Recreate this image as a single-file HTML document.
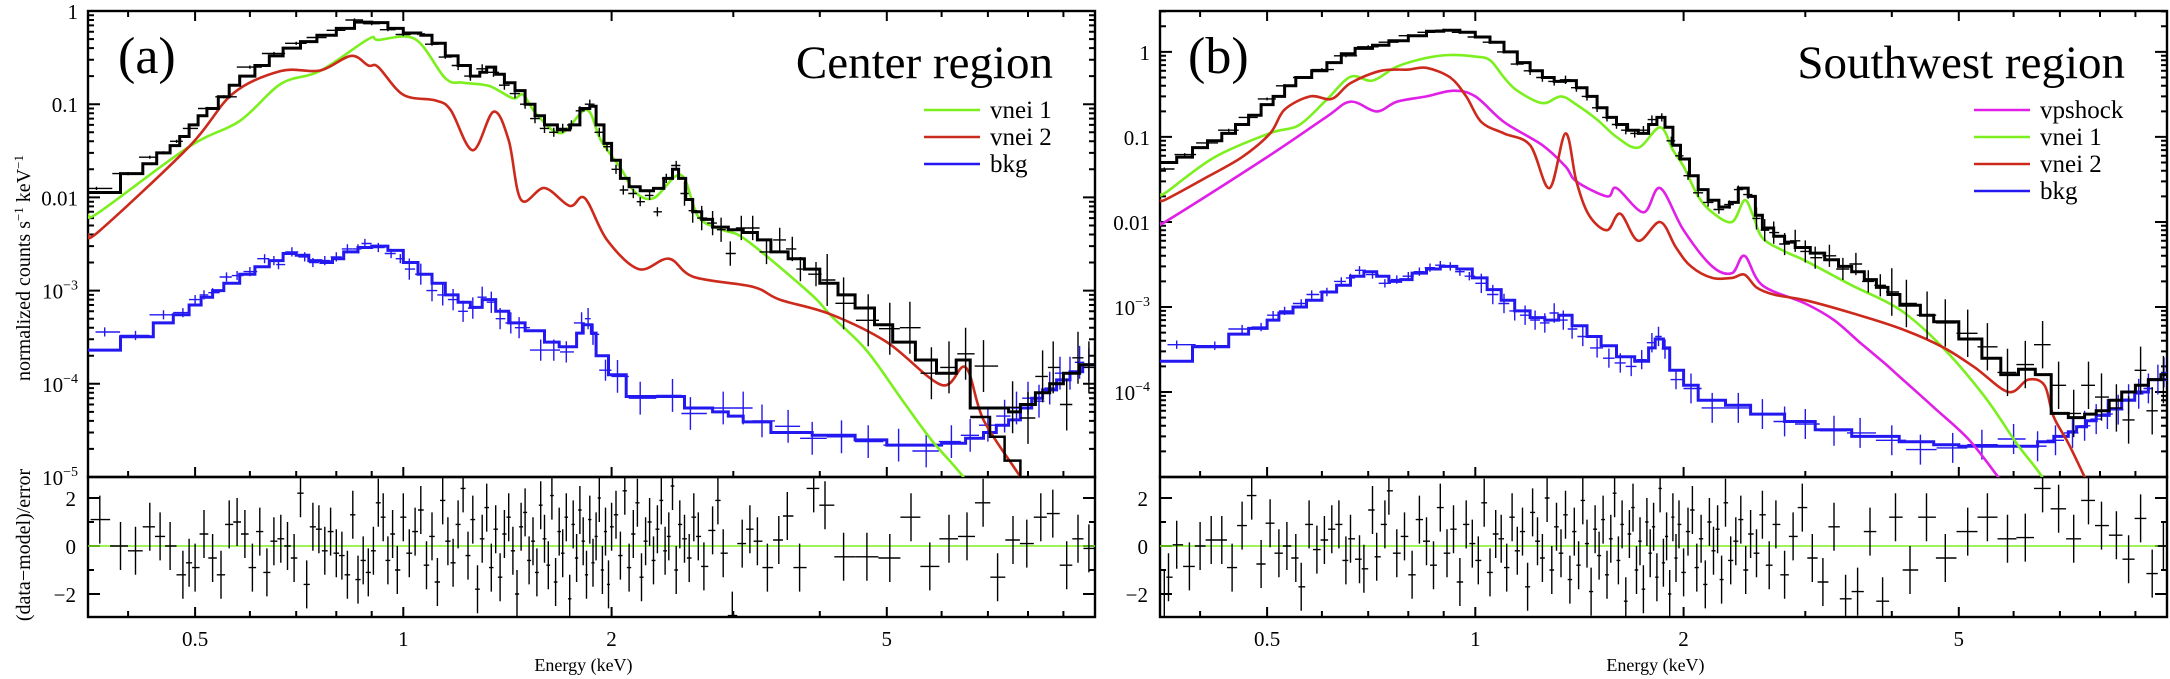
<!DOCTYPE html>
<html><head><meta charset="utf-8"><title>X-ray spectra</title>
<style>
html,body{margin:0;padding:0;background:#fff;}
svg{display:block;font-family:"Liberation Serif","DejaVu Serif",serif;}
</style></head>
<body>
<svg id="chart" width="2170" height="679" viewBox="0 0 2170 679" xmlns="http://www.w3.org/2000/svg">
<defs>
<clipPath id="clipMainA"><rect x="88" y="11" width="1007" height="466"/></clipPath>
<clipPath id="clipResA"><rect x="88" y="477" width="1007" height="140"/></clipPath>
<clipPath id="clipMainB"><rect x="1160" y="11" width="1007" height="466"/></clipPath>
<clipPath id="clipResB"><rect x="1160" y="477" width="1007" height="140"/></clipPath>
</defs>
</svg>
<script>
// ===== Shared axis settings =====
const EMIN = 0.35, EMAX = 10;
const xMajorTicks = [0.5, 1, 2, 5];
const xMinorTicks = [0.4, 0.6, 0.7, 0.8, 0.9, 3, 4, 6, 7, 8, 9];
const xTickLabels = ["0.5", "1", "2", "5"];

// ===== Panel (a): Center region =====
const aGreenE = [0.35,0.364,0.49,0.58,0.665,0.758,0.89,0.92,1.04,1.15,1.22,1.33,1.44,1.49,1.56,1.69,1.84,1.93,2.07,2.16,2.30,2.52,2.67,2.89,3.13,3.87,4.15,4.67,5.27,5.8,6.45,7.0];
const aGreenV = [0.0065,0.007,0.035,0.066,0.165,0.227,0.5,0.49,0.5,0.19,0.17,0.157,0.116,0.126,0.077,0.049,0.087,0.041,0.0196,0.0115,0.0098,0.0174,0.0062,0.0045,0.0035,0.00094,0.00054,0.00023,0.000066,0.000025,0.00001,0.000004];
const aRedE = [0.35,0.364,0.49,0.567,0.665,0.758,0.84,0.89,0.92,1.0,1.11,1.17,1.26,1.35,1.42,1.48,1.60,1.74,1.83,1.97,2.19,2.42,2.63,3.2,3.5,4.14,5.0,6.0,6.5,6.9,7.8,8.2];
const aRedV = [0.004,0.0044,0.035,0.13,0.227,0.23,0.33,0.26,0.25,0.126,0.11,0.087,0.032,0.083,0.041,0.0094,0.0126,0.0081,0.0098,0.0035,0.0017,0.0022,0.0014,0.0011,0.0008,0.00056,0.00028,0.000097,0.00015,0.000041,0.00001,0.000005];
const aTotEdges = [0.35,0.39,0.42,0.44,0.46,0.475,0.49,0.505,0.52,0.54,0.56,0.58,0.61,0.64,0.67,0.71,0.75,0.8,0.85,0.9,0.95,1.0,1.06,1.1,1.15,1.2,1.25,1.29,1.32,1.36,1.4,1.45,1.5,1.55,1.6,1.67,1.74,1.8,1.86,1.9,1.95,2.0,2.06,2.12,2.2,2.3,2.38,2.45,2.5,2.56,2.62,2.7,2.8,2.95,3.1,3.25,3.4,3.6,3.8,4.0,4.25,4.5,4.8,5.1,5.5,5.9,6.3,6.6,7.0,7.5,7.8,8.2,8.6,9.0,9.5];
const aTotV = [0.0113,0.018,0.023,0.03,0.036,0.045,0.06,0.075,0.09,0.12,0.16,0.2,0.26,0.33,0.4,0.47,0.55,0.65,0.76,0.75,0.65,0.58,0.55,0.45,0.33,0.26,0.2,0.22,0.25,0.21,0.17,0.14,0.1,0.075,0.06,0.053,0.06,0.09,0.095,0.06,0.038,0.025,0.016,0.013,0.0118,0.0125,0.016,0.02,0.016,0.0095,0.007,0.0058,0.0048,0.0045,0.0042,0.0035,0.0026,0.0022,0.0017,0.0012,0.0009,0.00065,0.00043,0.00028,0.00018,0.00013,0.00018,0.000055,0.000055,0.00005,0.00006,0.00008,0.0001,0.00013,0.00016];
const aLowEdges = [6.6,7.05,7.4,7.8];
const aLowV = [4.4e-5,2.7e-5,1.5e-5,8e-6];
const aBkgEdges = [0.35,0.39,0.435,0.465,0.49,0.51,0.53,0.55,0.58,0.61,0.64,0.67,0.70,0.73,0.76,0.79,0.82,0.86,0.9,0.95,1.0,1.05,1.1,1.15,1.2,1.25,1.3,1.36,1.42,1.5,1.6,1.68,1.78,1.82,1.87,1.9,1.98,2.1,2.4,2.55,2.8,2.95,3.1,3.4,3.9,4.5,5.0,6.0,6.5,6.9,7.2,7.5,7.8,8.1,8.4,8.8,9.2,9.6];
const aBkgV = [2.3e-4,3.2e-4,4.5e-4,5.5e-4,7e-4,8.5e-4,1.0e-3,1.2e-3,1.5e-3,1.8e-3,2.1e-3,2.5e-3,2.4e-3,2.1e-3,2.0e-3,2.2e-3,2.6e-3,2.9e-3,3.0e-3,2.7e-3,2.0e-3,1.5e-3,1.2e-3,9e-4,7.5e-4,6.6e-4,8e-4,6e-4,4.5e-4,3.7e-4,2.8e-4,2.5e-4,3.5e-4,4.3e-4,3.5e-4,2.0e-4,1.25e-4,7.3e-5,7.3e-5,5.5e-5,5e-5,4.5e-5,3.9e-5,3.0e-5,2.8e-5,2.5e-5,2.2e-5,2.3e-5,2.6e-5,3e-5,3.6e-5,4.1e-5,5.5e-5,7e-5,8.6e-5,1.1e-4,1.35e-4,1.6e-4];
const aDataE = [0.36,0.4,0.43,0.45,0.47,0.49,0.52,0.55,0.6,0.65,0.7,0.75,0.8,0.85,0.9,0.95,1.0,1.05,1.1,1.15,1.2,1.25,1.3,1.35,1.4,1.45,1.5,1.55,1.6,1.65,1.7,1.75,1.8,1.86,1.92,1.97,2.03,2.08,2.15,2.2,2.27,2.33,2.4,2.48,2.55,2.62,2.7,2.8,2.88,2.97,3.08,3.2,3.35,3.5,3.65,3.75,3.95,4.1,4.33,4.7,5.05,5.4,5.8,6.15,6.5,6.9,7.6,8.0,8.4,8.7,9.1,9.45,9.8];
const aDataV = [0.0125,0.018,0.027,0.03,0.04,0.055,0.09,0.12,0.25,0.35,0.45,0.52,0.62,0.8,0.73,0.63,0.56,0.57,0.44,0.32,0.26,0.2,0.24,0.22,0.16,0.13,0.1,0.07,0.055,0.05,0.055,0.06,0.085,0.1,0.05,0.035,0.02,0.012,0.011,0.009,0.0105,0.007,0.016,0.022,0.011,0.0072,0.006,0.0053,0.0045,0.0025,0.0047,0.0047,0.0026,0.0035,0.0028,0.0017,0.0015,0.0013,7.3e-4,4.8e-4,3.9e-4,4e-4,1.3e-4,1.5e-4,2.1e-4,1.55e-4,5.6e-5,4.3e-5,1.2e-4,1.5e-4,6e-5,1.9e-4,1.5e-4];
const aBkgDataE = [0.37,0.41,0.45,0.48,0.5,0.515,0.53,0.555,0.575,0.6,0.63,0.65,0.66,0.69,0.72,0.74,0.77,0.8,0.83,0.86,0.88,0.92,0.96,0.99,1.02,1.06,1.1,1.14,1.18,1.22,1.26,1.3,1.34,1.38,1.43,1.47,1.58,1.65,1.72,1.81,1.85,1.88,1.96,2.04,2.2,2.45,2.6,2.9,3.1,3.3,3.6,3.9,4.3,4.7,5.2,5.7,6.2,6.6,7.0,7.4,7.7,8.0,8.3,8.6,8.9,9.2,9.5,9.8];
const aBkgDataV = [3.6e-4,3.3e-4,5.5e-4,5.8e-4,8e-4,9e-4,9.5e-4,1.4e-3,1.45e-3,1.6e-3,2.2e-3,2.1e-3,1.9e-3,2.6e-3,2.3e-3,2.0e-3,2.1e-3,2.3e-3,2.8e-3,2.8e-3,3.2e-3,2.9e-3,2.5e-3,2.2e-3,1.7e-3,1.5e-3,1.0e-3,9e-4,8e-4,6e-4,6.5e-4,8.5e-4,7.5e-4,5e-4,4.5e-4,4e-4,2.3e-4,2.3e-4,2.2e-4,4.5e-4,5e-4,3.4e-4,1.4e-4,1.2e-4,7e-5,7.5e-5,4.8e-5,5.5e-5,5.5e-5,4e-5,3.5e-5,2.6e-5,2.7e-5,2.4e-5,2.2e-5,1.9e-5,2.4e-5,2.8e-5,3.6e-5,4.5e-5,5.5e-5,7e-5,6.5e-5,9e-5,1.3e-4,1.3e-4,1.7e-4,1.6e-4];
const aResE = [0.364,0.39,0.41,0.43,0.445,0.46,0.48,0.49,0.50,0.515,0.53,0.545,0.56,0.575,0.59,0.605,0.62,0.635,0.65,0.665,0.68,0.695,0.71,0.725,0.74,0.755,0.77,0.785,0.80,0.815,0.83,0.845,0.86,0.875,0.89,0.905,0.92,0.935,0.95,0.965,0.98,1.0,1.02,1.04,1.06,1.08,1.1,1.12,1.14,1.16,1.18,1.2,1.22,1.24,1.26,1.28,1.3,1.32,1.34,1.36,1.38,1.4,1.42,1.44,1.46,1.48,1.5,1.52,1.54,1.56,1.58,1.6,1.62,1.64,1.66,1.68,1.7,1.72,1.74,1.76,1.78,1.8,1.82,1.84,1.86,1.88,1.9,1.92,1.94,1.96,1.98,2.0,2.03,2.06,2.09,2.12,2.15,2.18,2.21,2.24,2.27,2.3,2.33,2.36,2.39,2.42,2.45,2.48,2.51,2.55,2.59,2.63,2.67,2.72,2.80,2.85,2.90,2.99,3.09,3.17,3.25,3.36,3.49,3.59,3.74,3.92,4.07,4.33,4.68,5.05,5.42,5.77,6.15,6.53,6.89,7.23,7.61,7.97,8.35,8.69,9.1,9.45,9.8];
const aResV = [1.1,0,-0.2,0.8,0.4,0,-1.2,-0.7,-0.9,0.5,-0.5,-1.2,0.9,1.0,0.5,-0.9,0.6,-1.1,0.2,0.3,0,-0.5,2.2,-1.6,0.8,0.7,-0.2,0.6,-0.3,-0.4,-1.2,1.3,-1.4,-0.6,-1.1,-0.2,1.8,1.2,-0.6,0.5,-1.0,1.2,-0.3,0.6,1.5,-0.8,0.4,-1.5,1.9,0.2,-0.7,0.9,2.4,-0.4,1.1,-1.8,0.3,1.6,-0.9,0.7,-1.3,0.5,1.2,-0.2,-2.0,0.8,1.4,-0.6,0.2,-1.1,1.7,0.3,-0.8,2.1,-1.5,0.6,-0.3,1.2,-2.2,0.9,-0.5,1.5,0.2,-1.2,1.1,-0.7,0.4,2.0,-1.0,0.6,-1.6,0.8,1.3,-0.4,2.3,-0.9,0.5,1.8,-1.3,0.2,1.0,-0.6,0.7,1.9,-0.2,0.4,2.5,-1.0,0.9,0.3,-0.5,1.2,0.4,-0.85,0.65,1.9,-0.3,-2.9,0.1,0.7,0.2,-0.9,0.25,1.25,-0.9,2.4,1.7,-0.45,-0.45,-0.5,1.2,-0.85,0.3,0.4,1.8,-1.3,0.25,0.1,1.2,1.35,-0.8,0.3,-0.1];

// ===== Panel (b): Southwest region =====
const bGreenE = [0.35,0.358,0.42,0.505,0.556,0.609,0.66,0.71,0.77,0.85,0.92,1.0,1.05,1.1,1.15,1.25,1.33,1.4,1.5,1.6,1.72,1.85,1.93,2.0,2.1,2.2,2.35,2.45,2.52,2.6,2.8,3.0,3.5,4.11,4.73,5.45,6.06,6.6,7.0];
const bGreenV = [0.021,0.0226,0.058,0.111,0.138,0.272,0.51,0.46,0.67,0.85,0.92,0.88,0.8,0.5,0.35,0.25,0.3,0.24,0.16,0.1,0.075,0.13,0.07,0.045,0.02,0.013,0.01,0.018,0.012,0.0065,0.0045,0.0035,0.0018,9.3e-4,3.4e-4,8.8e-5,2.5e-5,1e-5,4e-6];
const bRedE = [0.35,0.358,0.41,0.46,0.505,0.53,0.577,0.62,0.66,0.73,0.8,0.85,0.92,0.97,1.02,1.1,1.2,1.28,1.35,1.4,1.46,1.55,1.62,1.72,1.85,1.95,2.05,2.2,2.35,2.45,2.55,2.7,3.0,3.5,4.11,4.73,5.27,5.9,6.3,6.65,6.85,7.2,7.6,8.0];
const bRedV = [0.018,0.0186,0.034,0.058,0.11,0.21,0.3,0.28,0.43,0.6,0.62,0.65,0.5,0.3,0.15,0.11,0.08,0.025,0.11,0.03,0.012,0.008,0.0125,0.006,0.01,0.005,0.003,0.0022,0.0022,0.0024,0.0017,0.0014,0.0012,8.5e-4,5.6e-4,3.4e-4,1.95e-4,1.0e-4,1.4e-4,1.2e-4,5.2e-5,2.5e-5,1e-5,4e-6];
const bMagE = [0.35,0.358,0.5,0.609,0.66,0.72,0.77,0.85,0.93,1.0,1.1,1.25,1.35,1.4,1.55,1.6,1.75,1.85,2.0,2.2,2.35,2.45,2.6,3.0,3.3,3.6,3.9,4.11,4.6,5.16,5.7,6.2];
const bMagV = [0.0098,0.0103,0.058,0.172,0.26,0.2,0.26,0.3,0.35,0.3,0.15,0.08,0.045,0.03,0.02,0.025,0.013,0.025,0.008,0.003,0.0025,0.004,0.0018,0.0011,7e-4,3.8e-4,2.2e-4,1.5e-4,6.6e-5,2.8e-5,1e-5,4e-6];
const bTotEdges = [0.35,0.37,0.39,0.41,0.43,0.45,0.47,0.49,0.51,0.53,0.55,0.58,0.61,0.64,0.67,0.71,0.75,0.8,0.85,0.9,0.95,1.0,1.05,1.1,1.15,1.2,1.25,1.3,1.35,1.4,1.45,1.5,1.55,1.6,1.66,1.72,1.78,1.83,1.88,1.93,1.98,2.04,2.1,2.17,2.25,2.33,2.4,2.48,2.54,2.6,2.7,2.8,2.9,3.05,3.2,3.35,3.5,3.65,3.8,3.95,4.11,4.4,4.6,5.0,5.4,5.75,6.1,6.45,6.8,7.2,7.6,7.9,8.25,8.6,9.0,9.4,9.8];
const bTotV = [0.05,0.058,0.075,0.09,0.11,0.14,0.18,0.24,0.3,0.4,0.5,0.6,0.75,0.95,1.1,1.2,1.35,1.55,1.75,1.8,1.7,1.5,1.3,1.0,0.75,0.6,0.5,0.45,0.46,0.38,0.3,0.22,0.17,0.14,0.12,0.11,0.14,0.17,0.13,0.08,0.055,0.035,0.024,0.018,0.015,0.017,0.025,0.02,0.012,0.0085,0.0068,0.0058,0.005,0.0043,0.0036,0.003,0.0026,0.0021,0.0017,0.0014,0.00105,8e-4,6.7e-4,4.2e-4,2.5e-4,1.6e-4,1.85e-4,1.6e-4,5.6e-5,5e-5,5.5e-5,6e-5,8e-5,1e-4,1.2e-4,1.4e-4,1.6e-4];
const bBkgEdges = [0.35,0.39,0.44,0.47,0.5,0.52,0.545,0.57,0.6,0.63,0.66,0.69,0.72,0.75,0.78,0.81,0.85,0.89,0.94,0.99,1.04,1.09,1.14,1.2,1.26,1.32,1.38,1.45,1.52,1.6,1.7,1.78,1.82,1.87,1.91,2.0,2.1,2.3,2.5,2.8,3.1,3.5,4.1,4.6,5.0,6.5,6.86,7.2,7.4,7.65,7.9,8.25,8.6,8.98,9.4];
const bBkgV = [2.3e-4,3.4e-4,4.8e-4,5.6e-4,7e-4,8.5e-4,1.0e-3,1.2e-3,1.5e-3,1.8e-3,2.3e-3,2.6e-3,2.3e-3,2.0e-3,2.1e-3,2.5e-3,2.8e-3,3.0e-3,2.8e-3,2.2e-3,1.6e-3,1.2e-3,9e-4,7.5e-4,7e-4,8e-4,6e-4,4.5e-4,3.5e-4,2.6e-4,2.3e-4,3.3e-4,4.2e-4,3.3e-4,1.8e-4,1.2e-4,8e-5,7e-5,5.5e-5,4.5e-5,3.6e-5,3e-5,2.6e-5,2.4e-5,2.3e-5,2.6e-5,3e-5,3.4e-5,3.9e-5,4.6e-5,5.3e-5,6.3e-5,8e-5,1.0e-4,1.4e-4];
const bDataE = [0.355,0.38,0.41,0.44,0.47,0.5,0.53,0.56,0.6,0.65,0.7,0.75,0.8,0.85,0.9,0.95,1.0,1.05,1.1,1.15,1.2,1.25,1.3,1.35,1.4,1.45,1.5,1.55,1.6,1.65,1.7,1.75,1.8,1.86,1.92,1.97,2.03,2.1,2.17,2.25,2.33,2.4,2.48,2.55,2.62,2.7,2.8,2.9,3.0,3.1,3.25,3.4,3.55,3.7,3.85,4.0,4.2,4.5,4.78,5.15,5.5,5.88,6.24,6.61,6.97,7.33,7.7,8.04,8.45,8.8,9.16,9.52,9.88];
const bDataV = [0.042,0.062,0.085,0.12,0.17,0.28,0.4,0.5,0.62,0.9,1.15,1.3,1.55,1.7,1.8,1.7,1.5,1.3,1.0,0.72,0.6,0.5,0.45,0.47,0.38,0.3,0.22,0.17,0.14,0.12,0.11,0.12,0.16,0.17,0.09,0.06,0.035,0.022,0.017,0.014,0.016,0.024,0.021,0.011,0.008,0.0075,0.0055,0.006,0.0045,0.0038,0.004,0.0028,0.0032,0.002,0.0018,0.0015,0.0011,8e-4,6.5e-4,4.9e-4,3.4e-4,1.7e-4,2.1e-4,3.6e-4,1.2e-4,5.6e-5,1.2e-4,8.7e-5,6.5e-5,4.7e-5,1.8e-4,6e-5,1.4e-4];
const bBkgDataE = [0.37,0.42,0.46,0.49,0.51,0.53,0.56,0.58,0.61,0.64,0.66,0.68,0.71,0.74,0.77,0.8,0.83,0.86,0.89,0.92,0.95,0.98,1.02,1.06,1.1,1.14,1.18,1.22,1.26,1.3,1.34,1.38,1.43,1.5,1.56,1.62,1.68,1.74,1.8,1.84,1.88,1.95,2.05,2.2,2.4,2.6,2.8,3.0,3.3,3.6,4.0,4.4,4.9,5.4,6.0,6.5,6.9,7.3,7.6,7.9,8.2,8.5,8.8,9.1,9.4,9.7,9.9];
const bBkgDataV = [3.6e-4,3.5e-4,5.5e-4,5.8e-4,8e-4,9e-4,1.1e-3,1.4e-3,1.5e-3,2.0e-3,2.2e-3,2.7e-3,2.4e-3,1.9e-3,2.1e-3,2.3e-3,2.6e-3,2.9e-3,3.1e-3,3.0e-3,2.6e-3,2.3e-3,1.9e-3,1.4e-3,1.1e-3,9e-4,8e-4,7e-4,6.5e-4,8.5e-4,7e-4,5.5e-4,4.5e-4,3.3e-4,2.5e-4,2.2e-4,2.0e-4,2.4e-4,3.8e-4,4.5e-4,3.2e-4,1.4e-4,1.1e-4,6.5e-5,6.5e-5,5.5e-5,4.5e-5,4.2e-5,3.5e-5,3.3e-5,2.7e-5,2.1e-5,2.2e-5,2.4e-5,2.8e-5,2.3e-5,2.7e-5,3.3e-5,4e-5,4.8e-5,5.5e-5,6.2e-5,8.2e-5,9.5e-5,1.1e-4,1.4e-4,1.7e-4];
const bResE = [0.355,0.36,0.37,0.386,0.40,0.415,0.43,0.445,0.46,0.475,0.49,0.505,0.52,0.534,0.55,0.56,0.575,0.59,0.605,0.62,0.635,0.65,0.66,0.68,0.69,0.71,0.72,0.74,0.75,0.77,0.79,0.81,0.83,0.85,0.87,0.89,0.91,0.93,0.95,0.97,0.99,1.01,1.03,1.05,1.07,1.09,1.11,1.13,1.15,1.17,1.19,1.21,1.23,1.25,1.27,1.29,1.31,1.33,1.35,1.37,1.39,1.41,1.43,1.45,1.47,1.49,1.51,1.53,1.55,1.57,1.59,1.61,1.63,1.65,1.67,1.69,1.71,1.73,1.75,1.77,1.79,1.81,1.83,1.85,1.87,1.89,1.91,1.93,1.95,1.97,2.0,2.03,2.06,2.09,2.12,2.15,2.18,2.21,2.24,2.27,2.3,2.34,2.38,2.42,2.46,2.5,2.55,2.6,2.66,2.72,2.8,2.88,2.97,3.07,3.18,3.3,3.43,3.57,3.72,3.88,4.05,4.25,4.49,4.78,5.15,5.5,5.88,6.24,6.61,6.97,7.33,7.7,8.04,8.45,8.8,9.16,9.52,9.88];
const bResV = [-2,-1.3,0.05,-0.85,0,0.25,0.25,-0.9,0.85,2.1,-0.75,0.95,-0.3,0,-0.5,-1.7,0.9,-0.15,0.25,0.7,0.9,-0.6,0.3,-0.55,-0.95,1.5,-0.45,0.9,2.3,-0.3,0.4,-1.2,1.1,0.2,-0.8,1.6,-0.3,0.7,-1.5,0.9,0.1,-0.6,1.8,-1.1,0.5,0.3,-0.9,1.2,-0.2,0.6,-1.7,1.4,0.2,-0.5,2.0,-1.0,0.8,-0.3,1.3,-1.4,0.6,-0.8,1.9,0.1,-1.9,0.7,-0.4,1.1,-1.2,0.3,2.2,-0.6,0.9,-2.3,0.5,1.6,-1.0,0.2,-1.8,1.0,-0.3,0.8,-1.3,2.4,-0.7,0.4,-2.0,1.2,-0.5,0.9,-1.1,0.6,1.5,-0.9,0.3,-1.6,1.0,-0.2,0.7,-1.4,1.8,-0.6,0.2,1.1,-1.0,0.5,-0.3,1.3,-0.8,0.9,-1.2,0.4,1.6,-0.5,-1.5,0.8,-2.2,-1.9,0.6,-2.3,1.2,-1.0,1.2,-0.5,0.6,1.2,0.3,0.35,2.4,1.55,0.3,1.9,0.85,0.45,-0.55,1.15,-1.15,0];

// ===== Drawing =====
const NS = "http://www.w3.org/2000/svg";
const svg = document.getElementById("chart");
const COLORS = {green:"#7cf01e", red:"#cc2a1c", blue:"#2418f0", mag:"#e020e6", black:"#000"};

function mk(tag, attrs, parent){
  const el = document.createElementNS(NS, tag);
  for (const k in attrs) el.setAttribute(k, attrs[k]);
  (parent || svg).appendChild(el);
  return el;
}
function makePanel(x0, x1, vmax, clipMain, clipRes){
  const ytop = 11, ybot = 477, rbot = 617;
  const lmax = Math.log10(vmax), lmin = -5;
  return {
    x0, x1, ytop, ybot, rbot, vmax, clipMain, clipRes,
    xs: E => x0 + Math.log10(E/EMIN)/Math.log10(EMAX/EMIN)*(x1-x0),
    ys: v => ytop + (lmax - Math.log10(v))/(lmax - lmin)*(ybot-ytop),
    yr: r => 546 - r*24
  };
}
function smoothD(pts){
  let d = "M" + pts[0][0].toFixed(1) + "," + pts[0][1].toFixed(1);
  for (let i = 0; i < pts.length-1; i++){
    const p0 = pts[i-1] || pts[i], p1 = pts[i], p2 = pts[i+1], p3 = pts[i+2] || pts[i+1];
    const c1x = p1[0] + (p2[0]-p0[0])/6, c1y = p1[1] + (p2[1]-p0[1])/6;
    const c2x = p2[0] - (p3[0]-p1[0])/6, c2y = p2[1] - (p3[1]-p1[1])/6;
    d += " C" + c1x.toFixed(1)+","+c1y.toFixed(1)+" "+c2x.toFixed(1)+","+c2y.toFixed(1)+" "+p2[0].toFixed(1)+","+p2[1].toFixed(1);
  }
  return d;
}
function drawModel(P, Es, Vs, color, name){
  const n = Math.min(Es.length, Vs.length);
  const pts = [];
  for (let i = 0; i < n; i++) pts.push([P.xs(Es[i]), P.ys(Vs[i])]);
  const p = mk("path", {d: smoothD(pts), fill:"none", stroke:color, "stroke-width":2.6, "clip-path":"url(#"+P.clipMain+")"});
  
  
}
function drawSteps(P, edges, vals, color, width, name, endE){
  const n = Math.min(edges.length, vals.length);
  let d = "";
  for (let i = 0; i < n; i++){
    const xa = P.xs(edges[i]), xb = P.xs(i+1 < n ? edges[i+1] : (endE || EMAX)), y = P.ys(vals[i]);
    d += (i === 0 ? "M" : "L") + xa.toFixed(1) + "," + y.toFixed(1) + " L" + xb.toFixed(1) + "," + y.toFixed(1) + " ";
  }
  const p = mk("path", {d, fill:"none", stroke:color, "stroke-width":width, "stroke-linejoin":"miter", "clip-path":"url(#"+P.clipMain+")"});
  
  
}
function halfWidths(Es){
  return Es.map((E, i) => {
    const l = i > 0 ? Math.sqrt(Es[i-1]*E) : E*0.97;
    const r = i < Es.length-1 ? Math.sqrt(Es[i+1]*E) : Math.min(E*1.03, EMAX);
    return [l, r];
  });
}
function errFactor(E, kind){
  if (kind === "bkg") return E < 1 ? 1.12 : (E < 2 ? 1.3 : 1.5);
  return E < 1.2 ? 1.04 : (E < 2.5 ? 1.12 : (E < 4 ? 1.35 : 1.9));
}
function drawData(P, Es, Vs, color, kind, name){
  const n = Math.min(Es.length, Vs.length);
  const hw = halfWidths(Es.slice(0, n));
  const g = mk("g", {stroke:color, "stroke-width":1.4, "clip-path":"url(#"+P.clipMain+")"});
  
  
  for (let i = 0; i < n; i++){
    const x = P.xs(Es[i]), y = P.ys(Vs[i]), f = errFactor(Es[i], kind);
    const pt = mk("path", {d:"M"+P.xs(hw[i][0]).toFixed(1)+","+y.toFixed(1)+"H"+P.xs(hw[i][1]).toFixed(1)+"M"+x.toFixed(1)+","+P.ys(Vs[i]*f).toFixed(1)+"V"+P.ys(Vs[i]/f).toFixed(1)}, g);
    
    
  }
}
function drawResiduals(P, Es, Rs, name){
  const n = Math.min(Es.length, Rs.length);
  const hw = halfWidths(Es.slice(0, n));
  const zl = mk("line", {x1:P.x0, x2:P.x1, y1:P.yr(0), y2:P.yr(0), stroke:COLORS.green, "stroke-width":1.6});
  
  
  const g = mk("g", {stroke:"#000", "stroke-width":1.4, "clip-path":"url(#"+P.clipRes+")"});
  
  
  for (let i = 0; i < n; i++){
    const x = P.xs(Es[i]), y = P.yr(Rs[i]);
    const pt = mk("path", {d:"M"+P.xs(hw[i][0]).toFixed(1)+","+y.toFixed(1)+"H"+P.xs(hw[i][1]).toFixed(1)+"M"+x.toFixed(1)+","+P.yr(Rs[i]+1).toFixed(1)+"V"+P.yr(Rs[i]-1).toFixed(1)}, g);
    
    
  }
}
function supLabel(x, y, base, exp, parent){
  const t = mk("text", {x, y, "text-anchor":"end", "font-size":21}, parent);
  t.textContent = base;
  if (exp){
    const s = mk("tspan", {dy:-9, "font-size":14}, t);
    s.textContent = exp;
  }
  return t;
}
function drawAxes(P, yLabels, panelName){
  const g = mk("g", {});
  
  
  let d = "";
  mk("rect", {x:P.x0, y:P.ytop, width:P.x1-P.x0, height:P.ybot-P.ytop, fill:"none", stroke:"#000", "stroke-width":2.4}, g);
  mk("rect", {x:P.x0, y:P.ybot, width:P.x1-P.x0, height:P.rbot-P.ybot, fill:"none", stroke:"#000", "stroke-width":2.4}, g);
  const allX = xMajorTicks.map(v=>[v,10]).concat(xMinorTicks.map(v=>[v,6]));
  allX.forEach(([E,L]) => {
    const x = P.xs(E).toFixed(1);
    d += "M"+x+","+P.ytop+"v"+L+"M"+x+","+P.ybot+"v-"+L+"M"+x+","+P.rbot+"v-"+L;
  });
  for (let dec = -5; dec <= 1; dec++){
    for (let m = 1; m <= 9; m++){
      const v = m*Math.pow(10, dec);
      if (v < 1e-5 || v > P.vmax) continue;
      const y = P.ys(v).toFixed(1), L = m === 1 ? 12 : 6;
      d += "M"+P.x0+","+y+"h"+L+"M"+P.x1+","+y+"h-"+L;
    }
  }
  [-2,-1,0,1,2].forEach(r => {
    const y = P.yr(r).toFixed(1), L = (r % 2 === 0) ? 12 : 6;
    d += "M"+P.x0+","+y+"h"+L+"M"+P.x1+","+y+"h-"+L;
  });
  mk("path", {d, stroke:"#000", "stroke-width":2, fill:"none"}, g);
  yLabels.forEach(([v, base, exp]) => {
    const t = supLabel(P.x0-10, P.ys(v)+8, base, exp, g);
    
    
  });
  [["2",2],["0",0],["\u22122",-2]].forEach(([s,r]) => {
    const t = mk("text", {x:P.x0-12, y:P.yr(r)+8, "text-anchor":"end", "font-size":21}, g);
    t.textContent = s;
    
    
  });
  xMajorTicks.forEach((E, i) => {
    const t = mk("text", {x:P.xs(E), y:646, "text-anchor":"middle", "font-size":21}, g);
    t.textContent = xTickLabels[i];
    
    
  });
  const xt = mk("text", {x:(P.x0+P.x1)/2-8, y:671, "text-anchor":"middle", "font-size":18}, g);
  xt.textContent = "Energy (keV)";
  
  
}
function drawLegend(x, y0, entries, name){
  const g = mk("g", {});
  
  
  entries.forEach(([label, color], i) => {
    const y = y0 + i*27;
    const ln = mk("line", {x1:x, x2:x+56, y1:y, y2:y, stroke:color, "stroke-width":2.6}, g);
    
    
    const t = mk("text", {x:x+66, y:y+8, "font-size":25}, g);
    t.textContent = label;
    
    
  });
}
function title(x, y, s, size, anchor, name){
  const t = mk("text", {x, y, "font-size":size, "text-anchor":anchor});
  t.textContent = s;
  
  
}

// Panel A
const PA = makePanel(88, 1095, 1, "clipMainA", "clipResA");
drawAxes(PA, [[1,"1"],[0.1,"0.1"],[0.01,"0.01"],[1e-3,"10","\u22123"],[1e-4,"10","\u22124"],[1e-5,"10","\u22125"]], "panel-a");
drawSteps(PA, aBkgEdges, aBkgV, COLORS.blue, 3, "bkg-model-a");
drawData(PA, aBkgDataE, aBkgDataV, COLORS.blue, "bkg", "bkg-data-a");
drawModel(PA, aGreenE, aGreenV, COLORS.green, "vnei1-curve-a");
drawModel(PA, aRedE, aRedV, COLORS.red, "vnei2-curve-a");
drawSteps(PA, aTotEdges, aTotV, COLORS.black, 3, "total-model-a");
drawSteps(PA, aLowEdges, aLowV, COLORS.black, 2.5, "total-model-lower-a", 8.2);
drawData(PA, aDataE, aDataV, COLORS.black, "src", "source-data-a");
drawResiduals(PA, aResE, aResV, "residuals-a");
title(118, 73, "(a)", 52, "start", "panel-a-label");
title(1053, 78, "Center region", 47, "end", "panel-a-title");
drawLegend(924, 110, [["vnei 1", COLORS.green],["vnei 2", COLORS.red],["bkg", COLORS.blue]], "legend-a");

// Panel B
const PB = makePanel(1160, 2167, 3.03, "clipMainB", "clipResB");
drawAxes(PB, [[1,"1"],[0.1,"0.1"],[0.01,"0.01"],[1e-3,"10","\u22123"],[1e-4,"10","\u22124"]], "panel-b");
drawSteps(PB, bBkgEdges, bBkgV, COLORS.blue, 3, "bkg-model-b");
drawData(PB, bBkgDataE, bBkgDataV, COLORS.blue, "bkg", "bkg-data-b");
drawModel(PB, bMagE, bMagV, COLORS.mag, "vpshock-curve-b");
drawModel(PB, bGreenE, bGreenV, COLORS.green, "vnei1-curve-b");
drawModel(PB, bRedE, bRedV, COLORS.red, "vnei2-curve-b");
drawSteps(PB, bTotEdges, bTotV, COLORS.black, 3, "total-model-b");
drawData(PB, bDataE, bDataV, COLORS.black, "src", "source-data-b");
drawResiduals(PB, bResE, bResV, "residuals-b");
title(1188, 73, "(b)", 52, "start", "panel-b-label");
title(2125, 78, "Southwest region", 47, "end", "panel-b-title");
drawLegend(1974, 110, [["vpshock", COLORS.mag],["vnei 1", COLORS.green],["vnei 2", COLORS.red],["bkg", COLORS.blue]], "legend-b");

// Y axis titles
const yt1 = mk("text", {transform:"translate(30,268) rotate(-90)", "text-anchor":"middle", "font-size":20});


yt1.innerHTML = 'normalized counts s<tspan dy="-7" font-size="13">\u22121</tspan><tspan dy="7"> keV</tspan><tspan dy="-7" font-size="13">\u22121</tspan>';
const yt2 = mk("text", {transform:"translate(30,545) rotate(-90)", "text-anchor":"middle", "font-size":20});
yt2.textContent = "(data\u2212model)/error";


</script>
</body></html>
